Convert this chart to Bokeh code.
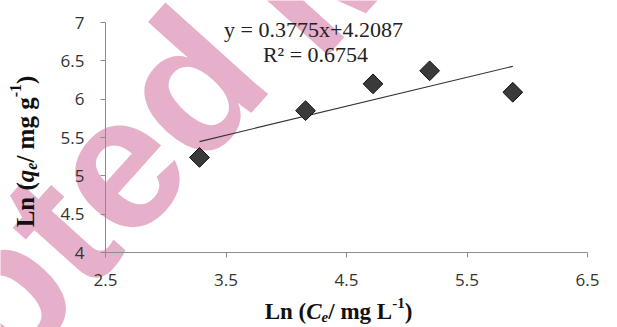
from bokeh.plotting import figure
from bokeh.models import Label, Range1d, FixedTicker, NumeralTickFormatter
from bokeh.embed import file_html
from bokeh.resources import INLINE

# ---- data ----
ln_ce = [3.28, 4.16, 4.72, 5.19, 5.88]
ln_qe = [5.24, 5.85, 6.20, 6.37, 6.09]
slope = 0.3775
intercept = 4.2087
r_squared = 0.6754
x_ticks = [2.5, 3.5, 4.5, 5.5, 6.5]
y_ticks = [4, 4.5, 5, 5.5, 6, 6.5, 7]

# ---- layout: the frame fills the canvas, axes sit at fixed locations ----
W, H = 617, 327
LB, RB, TB, BB = 105, 30, 22, 75
X0, X1, Y0, Y1 = 2.5, 6.5, 4.0, 7.0
PPX = (W - LB - RB) / (X1 - X0)
PPY = (H - TB - BB) / (Y1 - Y0)
XR0, XR1 = X0 - LB / PPX, X1 + RB / PPX
YR0, YR1 = Y0 - BB / PPY, Y1 + TB / PPY


def dx(px):
    return XR0 + px / PPX


def dy(py):
    return YR1 - py / PPY


p = figure(width=W, height=H, output_backend="svg", toolbar_location=None,
           x_range=Range1d(XR0, XR1), y_range=Range1d(YR0, YR1),
           min_border_left=0, min_border_right=0,
           min_border_top=0, min_border_bottom=0)
p.outline_line_color = None
p.grid.visible = False
p.background_fill_color = "white"
p.border_fill_color = "white"

AX = "#8c8c8c"
for ax, ticks, loc, bnds in ((p.xaxis[0], x_ticks, Y0, (X0, X1)),
                             (p.yaxis[0], y_ticks, X0, (Y0, Y1))):
    ax.fixed_location = loc
    ax.bounds = bnds
    ax.ticker = FixedTicker(ticks=ticks)
    ax.formatter = NumeralTickFormatter(format="0.[0]")
    ax.axis_line_color = AX
    ax.major_tick_line_color = AX
    ax.minor_tick_line_color = None
    ax.major_tick_in = 0
    ax.major_tick_out = 5
    ax.major_label_text_font = "Open Sans"
    ax.major_label_text_font_size = "17px"
    ax.major_label_text_color = "#333333"
p.yaxis[0].major_label_standoff = 16
p.xaxis[0].major_label_standoff = 16

# ---- watermark (behind everything) ----
WM = dict(angle=48, angle_units="deg", text_font="Liberation Sans",
          text_font_style="bold", text_font_size="190px",
          text_color="#e6b0cb", text_baseline="alphabetic", level="image")
p.add_layout(Label(x=dx(227), y=dy(40), text="Accepted", text_align="right", **WM))
p.add_layout(Label(x=dx(270), y=dy(20), text="Manuscript", text_align="left", **WM))

# ---- trend line and points ----
xs = [min(ln_ce), max(ln_ce)]
ys = [slope * v + intercept for v in xs]
p.line(xs, ys, line_color="#333333", line_width=1.2)
p.scatter(ln_ce, ln_qe, marker="square", size=14, angle=45, angle_units="deg",
          fill_color="#3a3a3a", line_color="#111111", line_width=1)

# ---- equation ----
EQ = dict(text_font="Liberation Serif", text_font_size="22px",
          text_color="#222222", text_align="center", text_baseline="middle")
p.add_layout(Label(x=dx(313), y=dy(29), text=f"y = {slope}x+{intercept}", **EQ))
p.add_layout(Label(x=dx(315), y=dy(54), text=f"R\u00b2 = {r_squared}", **EQ))

# ---- axis titles built from pieces ----
WB = {'L': 0.667, 'n': 0.556, ' ': 0.25, '(': 0.333, ')': 0.333, '/': 0.278,
      'm': 0.833, 'g': 0.5, '-': 0.333, '1': 0.5}
WBI = {'C': 0.667, 'q': 0.5, 'e': 0.444}


def pieces_for(sym, unit, F, S):
    return [("Ln (", "bold", F, 0), (sym, "bold italic", F, 0),
            ("e", "bold italic", S, round(F * 0.22)), ("/ mg " + unit, "bold", F, 0),
            ("-1", "bold", S, -round(F * 0.39)), (")", "bold", F, 0)]


def width(txt, style, size):
    table = WBI if "italic" in style else WB
    return sum(table.get(c, 0.5) for c in txt) * size


def place(pieces, cx, cy, vertical):
    total = sum(width(t, st, sz) for t, st, sz, _ in pieces)
    pos = -total / 2
    for t, st, sz, shift in pieces:
        if vertical:
            px, py, ang = cx + shift, cy - pos, 90
        else:
            px, py, ang = cx + pos, cy + shift, 0
        p.add_layout(Label(x=dx(px), y=dy(py), text=t, angle=ang, angle_units="deg",
                           text_font="Liberation Serif", text_font_style=st,
                           text_font_size=f"{sz}px", text_color="#111111",
                           text_align="left", text_baseline="alphabetic"))
        pos += width(t, st, sz)


place(pieces_for("C", "L", 23, 15), 338, 311, False)
place(pieces_for("q", "g", 25, 16), 25, 151, True)

open("out.html", "w").write(file_html(p, INLINE))
